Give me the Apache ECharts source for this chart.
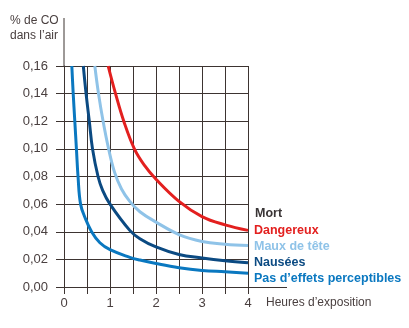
<!DOCTYPE html>
<html><head><meta charset="utf-8">
<script src="https://cdn.jsdelivr.net/npm/echarts@6/dist/echarts.min.js"></script>
<style>html,body{margin:0;padding:0;background:#fff}#c{width:409px;height:328px}</style>
</head><body><div id="c"></div>
<script>
// Data (hours of exposure, % CO in air)
const dangereux = [[0.96,0.16],[1.12,0.14],[1.3,0.12],[1.53,0.10],[1.75,0.088],[2.0,0.078],[2.5,0.062],[3.0,0.051],[3.5,0.045],[4.0,0.041]];
const mauxDeTete = [[0.67,0.16],[0.75,0.14],[0.85,0.12],[0.97,0.10],[1.1,0.083],[1.25,0.071],[1.43,0.062],[1.65,0.0545],[2.0,0.047],[2.5,0.038],[3.0,0.033],[3.5,0.031],[4.0,0.030]];
const nausees = [[0.42,0.16],[0.48,0.14],[0.55,0.12],[0.62,0.10],[0.74,0.08],[0.84,0.07],[1.0,0.06],[1.43,0.041],[1.65,0.035],[2.0,0.029],[2.5,0.0235],[3.0,0.021],[3.5,0.019],[4.0,0.0175]];
const pasDEffets = [[0.17,0.16],[0.20,0.14],[0.235,0.12],[0.27,0.10],[0.305,0.08],[0.36,0.06],[0.46,0.05],[0.60,0.04],[0.78,0.032],[1.0,0.027],[1.43,0.0215],[1.65,0.0195],[2.0,0.017],[2.5,0.014],[3.0,0.012],[3.5,0.011],[4.0,0.010]];
const seriesNames = ['Dangereux','Maux de tête','Nausées','Pas d’effets perceptibles'];
const topLabel = 'Mort';
const yTitle = '% de CO\ndans l’air';
const xTitle = 'Heures d’exposition';

const gridCol = '#3d3431';
const textCol = '#4a4040';
const FONT = 'Liberation Sans';
const colors = ['#e3201f','#8fc3e8','#0b4a82','#0a78c0'];
const datas = [dangereux, mauxDeTete, nausees, pasDEffets];
const labelOffsets = [[0,0],[0,1],[0,0],[0,5]];

const chart = echarts.init(document.getElementById('c'), null, {renderer:'canvas'});
chart.setOption({
  animation:false,
  grid:{left:64,right:161,top:66,bottom:41,containLabel:false,outerBoundsMode:'none'},
  xAxis:{type:'value',min:0,max:4,interval:0.5,
    axisLine:{show:true,lineStyle:{color:gridCol,width:1}},
    axisTick:{show:true,length:7,lineStyle:{color:gridCol}},
    splitLine:{show:true,lineStyle:{color:gridCol,width:1}},
    axisLabel:{color:textCol,fontFamily:FONT,fontSize:13,margin:10,
      formatter:v=>Number.isInteger(v)?String(v):''}},
  yAxis:{type:'value',min:0,max:0.16,interval:0.02,
    axisLine:{show:true,lineStyle:{color:gridCol,width:1}},
    axisTick:{show:true,length:8,lineStyle:{color:gridCol}},
    splitLine:{show:true,lineStyle:{color:gridCol,width:1}},
    axisLabel:{color:textCol,fontFamily:FONT,fontSize:13,margin:16,
      formatter:v=>v.toFixed(2).replace('.',',')}},
  series: datas.map((d,i)=>({
    type:'line',name:seriesNames[i],data:d,smooth:0.4,showSymbol:false,
    lineStyle:{color:colors[i],width:3},
    endLabel:{show:true,formatter:seriesNames[i],color:colors[i],fontFamily:FONT,
      fontWeight:'bold',fontSize:12.5,distance:6,offset:labelOffsets[i]}
  })),
  graphic:[
    {type:'line',shape:{x1:64,y1:18,x2:64,y2:66},style:{stroke:gridCol,lineWidth:1}},
    {type:'line',shape:{x1:248,y1:287.5,x2:287,y2:287.5},style:{stroke:gridCol,lineWidth:1}},
    {type:'text',left:10,top:13,style:{text:yTitle,fill:textCol,font:'12px '+FONT,lineHeight:15}},
    {type:'text',left:266,top:297,style:{text:xTitle,fill:textCol,font:'12px '+FONT}},
    {type:'text',left:255,top:207,style:{text:topLabel,fill:'#3a3536',font:'bold 12.5px '+FONT}}
  ]
});
</script></body></html>
